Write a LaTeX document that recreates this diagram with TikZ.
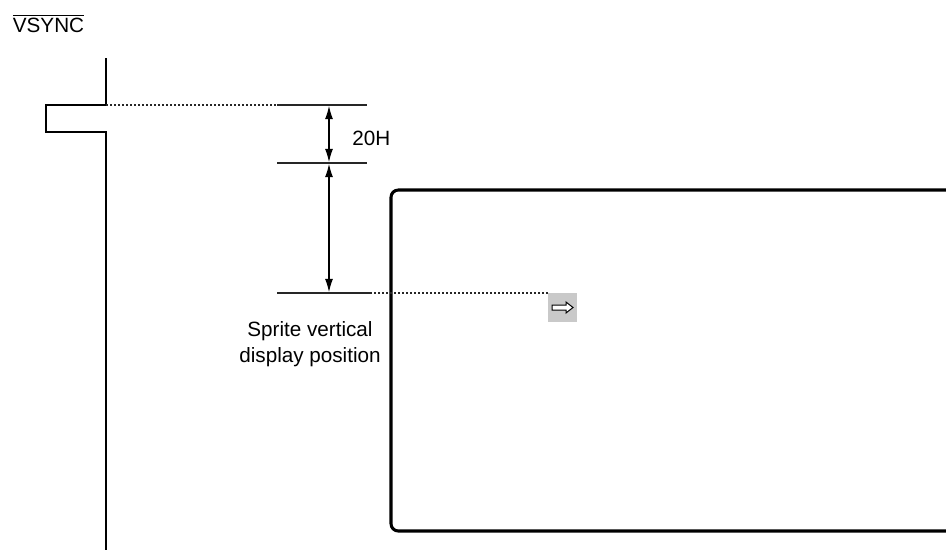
\documentclass[tikz,border=0pt]{standalone}
\usepackage{fontspec}
\setmainfont{Liberation Sans}
\usetikzlibrary{arrows.meta,positioning}

\begin{document}
\begin{tikzpicture}[x=0.75pt, y=-0.75pt,
    sig/.style={line width=1.1pt},
    refline/.style={line width=0.9pt, draw=black!85},
    guide/.style={line width=0.9pt, dash pattern=on 1.5pt off 1.5pt, draw=black!85},
    dim/.style={{Latex[length=10pt,width=6pt]}-{Latex[length=10pt,width=6pt]}, line width=0.9pt, shorten >=0.6pt, shorten <=0.6pt},
    lbl/.style={font=\fontsize{15.5}{19.5}\selectfont, inner sep=0pt, align=center},
    marker/.style={fill=black!21, minimum width=21.75pt, minimum height=21.75pt, inner sep=0pt}
]
    \useasboundingbox (0,0) rectangle (946,554);
    \clip (0,0) rectangle (946,554);

    % VSYNC signal with its pulse
    \node[lbl, anchor=base] (vsync) at (48.5,32) {$\overline{\mbox{VSYNC}}$};
    \coordinate (sigtop) at (106,58);
    \coordinate (pulse) at (106,105);
    \coordinate (sigbot) at (106,550);
    \draw[sig] (sigtop) -- (pulse) -- (46,105) -- (46,132) -- (106,132) -- (sigbot);

    % reference levels
    \coordinate (aL) at (277,105);  \coordinate (aR) at (367,105);
    \coordinate (bL) at (277,163);  \coordinate (bR) at (367,163);
    \coordinate (cL) at (277,293);  \coordinate (cR) at (370,293);
    \draw[refline] (aL) -- (aR);
    \draw[refline] (bL) -- (bR);
    \draw[refline] (cL) -- (cR);
    \draw[guide] (pulse) -- (aL);

    % dimensions
    \coordinate (d1) at (329,105);
    \coordinate (d2) at (329,163);
    \coordinate (d3) at (329,293);
    \draw[dim] (d1) -- (d2);
    \draw[dim] (d2) -- (d3);
    \node[lbl, anchor=base west] (hcount) at (352,145) {20H};
    \node[lbl] (spos) at (310,344) {Sprite vertical\\display position};

    % display screen
    \draw[line width=2.3pt, rounded corners=5.5pt] (391,190) rectangle (965,531);

    % sprite marker
    \node[marker] (mark) at (562.5,307.5) {};
    \draw[guide] (cR) -- (mark.west |- cR);
    \draw[line width=0.75pt, fill=white] (mark.center) ++(-10.5,-2.5) -- ++(14,0) -- ++(0,-3)
        -- ++(7,5.5) -- ++(-7,5.5) -- ++(0,-3) -- ++(-14,0) -- cycle;
\end{tikzpicture}
\end{document}
